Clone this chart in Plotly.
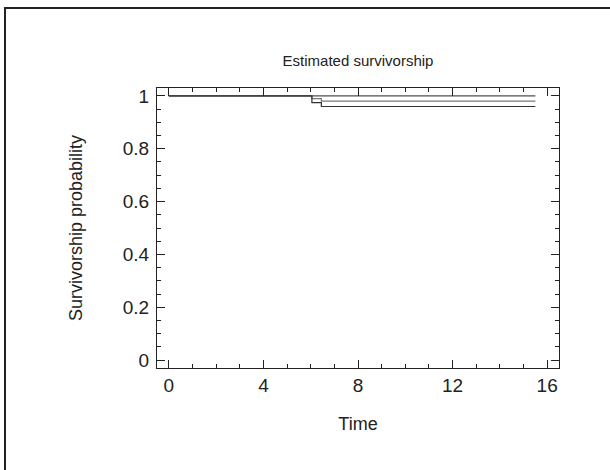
import plotly.graph_objects as go

# Data: Kaplan-Meier style step curves
time_a = [0, 15.5]
surv_a = [1.0, 1.0]
time_b = [0, 6.05, 6.45, 15.5]
surv_b = [1.0, 0.99, 0.98, 0.98]
time_c = [0, 6.05, 6.45, 15.5]
surv_c = [1.0, 0.975, 0.96, 0.96]

x_ticks = [0, 4, 8, 12, 16]
y_ticks = [0, 0.2, 0.4, 0.6, 0.8, 1]
y_ticklabels = ["0", "0.2", "0.4", "0.6", "0.8", "1"]

FONT = "Liberation Sans, Arial, sans-serif"
INK = "#222222"

fig = go.Figure()
fig.add_trace(go.Scatter(x=time_a, y=surv_a, mode="lines", line=dict(color="#222222", width=1, shape="hv"), showlegend=False))
fig.add_trace(go.Scatter(x=time_b, y=surv_b, mode="lines", line=dict(color="#777777", width=1.2, shape="hv"), showlegend=False))
fig.add_trace(go.Scatter(x=time_c, y=surv_c, mode="lines", line=dict(color="#333333", width=1.2, shape="hv"), showlegend=False))

axis_common = dict(
    showline=True, linecolor=INK, linewidth=1.2, mirror="ticks",
    ticks="inside", ticklen=8, tickwidth=1.2, tickcolor=INK,
    showgrid=False, zeroline=False,
    tickfont=dict(family=FONT, size=19, color=INK),
)

fig.update_xaxes(
    range=[-0.5, 16.5], tickmode="array", tickvals=x_ticks,
    minor=dict(ticks="inside", ticklen=4, dtick=1, tick0=0, tickcolor=INK, tickwidth=1),
    title=dict(text="Time", font=dict(family=FONT, size=18, color=INK), standoff=22),
    **axis_common,
)
fig.update_yaxes(
    range=[-0.03, 1.03], tickmode="array", tickvals=y_ticks, ticktext=y_ticklabels,
    minor=dict(ticks="inside", ticklen=4, dtick=0.05, tick0=0, tickcolor=INK, tickwidth=1),
    ticklabelstandoff=3,
    title=dict(text="Survivorship probability", font=dict(family=FONT, size=18, color=INK), standoff=35),
    **axis_common,
)

# outer frame
fig.add_shape(type="rect", xref="paper", yref="paper",
              x0=(5 - 157) / 402, x1=(640 - 157) / 402,
              y0=(368 - 500) / 280, y1=(368 - 8) / 280,
              line=dict(color=INK, width=2), layer="below")

fig.update_layout(
    width=610, height=470,
    margin=dict(l=157, r=51, t=88, b=102, autoexpand=False),
    paper_bgcolor="white", plot_bgcolor="white",
    title=dict(text="Estimated survivorship", x=358 / 610, xanchor="center",
               y=1 - 61 / 470, yanchor="middle",
               font=dict(family=FONT, size=15, color=INK)),
)

fig.write_html(
    "out.html",
    config={"displayModeBar": False},
    post_script="document.body.style.margin='0';document.body.style.overflow='hidden';",
)
